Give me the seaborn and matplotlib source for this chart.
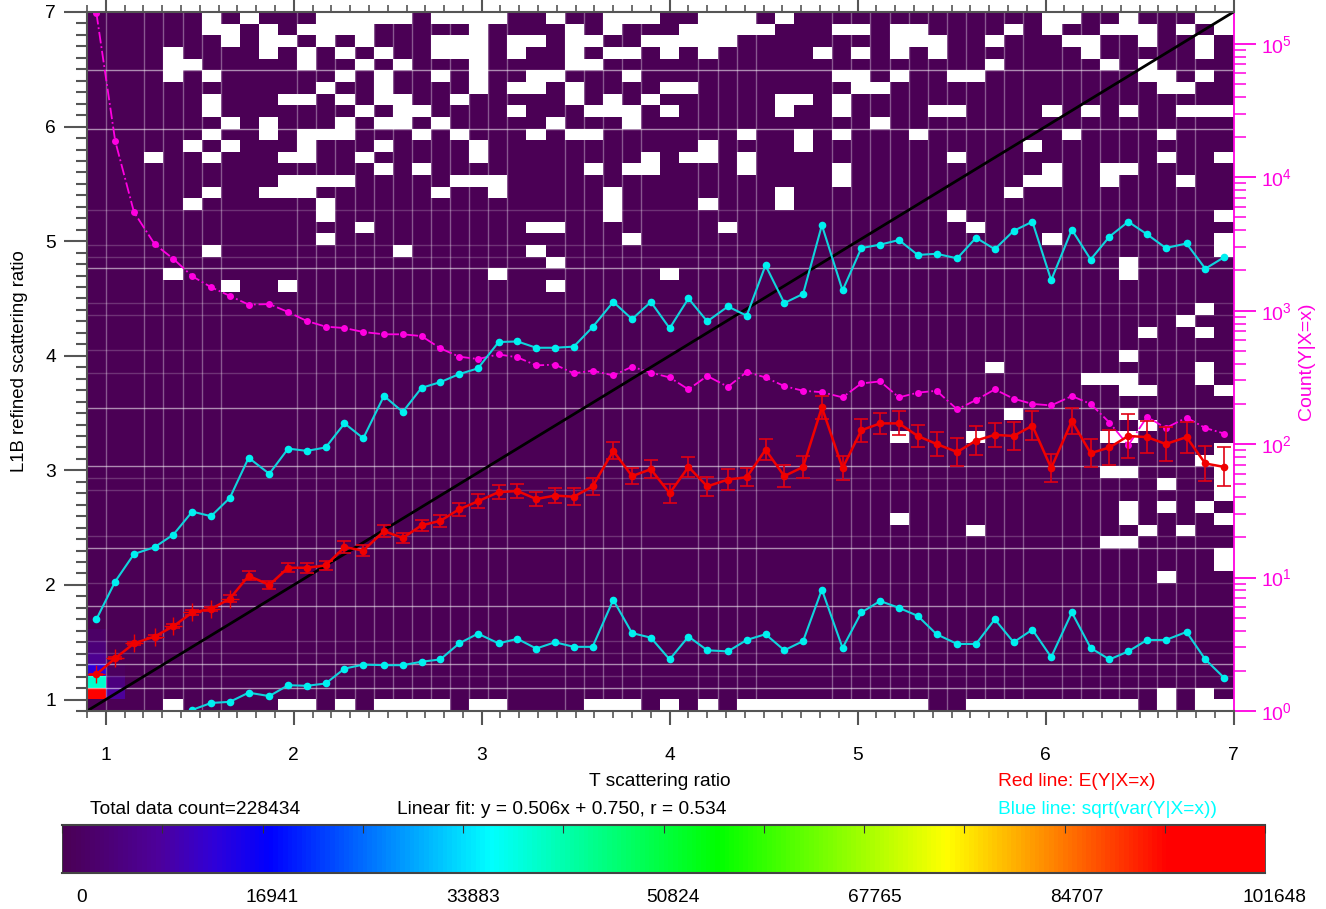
import numpy as np
import matplotlib.pyplot as plt
import seaborn as sns
from matplotlib.colors import LinearSegmentedColormap
from matplotlib.ticker import MultipleLocator, LogLocator, NullFormatter

W, H = 1326, 909

# bin centres of the 60 columns
x_bins = [0.95, 1.05, 1.15, 1.26, 1.36, 1.46, 1.56, 1.66, 1.76, 1.87,
          1.97, 2.07, 2.17, 2.27, 2.37, 2.48, 2.58, 2.68, 2.78, 2.88,
          2.98, 3.09, 3.19, 3.29, 3.39, 3.49, 3.59, 3.70, 3.80, 3.90,
          4.00, 4.10, 4.20, 4.31, 4.41, 4.51, 4.61, 4.71, 4.81, 4.92,
          5.02, 5.12, 5.22, 5.32, 5.42, 5.53, 5.63, 5.73, 5.83, 5.93,
          6.03, 6.14, 6.24, 6.34, 6.44, 6.54, 6.64, 6.75, 6.85, 6.95]

mean_y = [1.22, 1.36, 1.49, 1.55, 1.64, 1.76, 1.79, 1.88, 2.08, 2.00,
          2.15, 2.15, 2.17, 2.33, 2.30, 2.47, 2.41, 2.52, 2.56, 2.66,
          2.73, 2.81, 2.82, 2.75, 2.78, 2.77, 2.86, 3.17, 2.95, 3.01,
          2.80, 3.03, 2.86, 2.92, 2.94, 3.18, 2.95, 3.03, 3.55, 3.02,
          3.35, 3.41, 3.41, 3.30, 3.23, 3.16, 3.26, 3.31, 3.30, 3.39,
          3.02, 3.43, 3.15, 3.20, 3.30, 3.29, 3.23, 3.29, 3.06, 3.03]

err_y = [0.005, 0.008, 0.01, 0.012, 0.015, 0.02, 0.02, 0.03, 0.04, 0.035,
         0.04, 0.045, 0.04, 0.05, 0.045, 0.05, 0.045, 0.05, 0.05, 0.055,
         0.06, 0.06, 0.06, 0.065, 0.065, 0.075, 0.075, 0.075, 0.07, 0.08,
         0.083, 0.09, 0.08, 0.09, 0.08, 0.09, 0.095, 0.095, 0.10, 0.105,
         0.10, 0.09, 0.105, 0.10, 0.105, 0.125, 0.125, 0.105, 0.125, 0.125,
         0.12, 0.11, 0.12, 0.155, 0.19, 0.14, 0.145, 0.135, 0.15, 0.17]

upper_y = [1.70, 2.03, 2.27, 2.33, 2.44, 2.64, 2.60, 2.76, 3.11, 2.97,
           3.19, 3.17, 3.20, 3.41, 3.28, 3.65, 3.51, 3.72, 3.77, 3.84,
           3.89, 4.12, 4.125, 4.07, 4.07, 4.08, 4.25, 4.47, 4.32, 4.47,
           4.24, 4.50, 4.30, 4.43, 4.35, 4.79, 4.46, 4.54, 5.14, 4.57,
           4.94, 4.97, 5.01, 4.88, 4.89, 4.85, 5.03, 4.93, 5.09, 5.17,
           4.66, 5.10, 4.84, 5.04, 5.17, 5.06, 4.94, 4.98, 4.76, 4.86]

lower_y = [0.74, 0.69, 0.71, 0.77, 0.84, 0.91, 0.97, 0.98, 1.06, 1.03,
           1.125, 1.12, 1.14, 1.27, 1.305, 1.30, 1.30, 1.33, 1.35, 1.49,
           1.575, 1.49, 1.53, 1.445, 1.50, 1.46, 1.46, 1.87, 1.58, 1.54,
           1.35, 1.55, 1.43, 1.42, 1.52, 1.57, 1.43, 1.51, 1.96, 1.45,
           1.76, 1.86, 1.80, 1.73, 1.57, 1.485, 1.485, 1.70, 1.50, 1.61,
           1.37, 1.76, 1.45, 1.35, 1.42, 1.52, 1.52, 1.59, 1.35, 1.19]

count_y = [170000, 18700, 5470, 3150, 2440, 1810, 1500, 1290, 1110, 1120,
           977, 836, 759, 741, 692, 665, 665, 645, 522, 452,
           434, 470, 447, 389, 394, 339, 355, 327, 380, 343,
           316, 257, 324, 269, 347, 316, 272, 251, 245, 224,
           285, 295, 224, 243, 251, 182, 214, 257, 219, 200,
           195, 229, 200, 145, 98, 160, 132, 158, 132, 120]

# empty bins, row number from the top -> column numbers
empty_cells = {
    0: [6, 8, 12, 13, 14, 15, 16, 18, 19, 20, 21, 24, 27, 28, 29, 32, 33, 34, 36, 50, 51, 54, 58, 59],
    1: [6, 7, 9, 11, 12, 13, 14, 20, 25, 27, 31, 32, 33, 34, 35, 39, 40, 42, 43, 48, 50, 53, 54, 55, 57, 59],
    2: [7, 9, 10, 12, 14, 18, 19, 20, 22, 23, 25, 26, 29, 30, 31, 32, 33, 42, 43, 44, 47, 51, 52, 55, 58],
    3: [4, 9, 11, 13, 15, 18, 19, 20, 22, 25, 27, 28, 30, 32, 38, 40, 42, 44, 52, 58],
    4: [4, 5, 11, 14, 16, 20, 25, 26, 47, 53, 55],
    5: [4, 6, 13, 15, 18, 20, 23, 24, 28, 39, 40, 42, 45, 46, 55, 56, 58],
    6: [12, 15, 20, 22, 23, 25, 30, 31, 40, 41, 56, 57],
    7: [6, 10, 11, 13, 15, 16, 19, 25, 27, 29, 36, 37, 39],
    8: [6, 14, 16, 17, 22, 26, 27, 28, 30, 36, 39, 44, 45, 50, 52, 54, 57, 58, 59],
    9: [7, 9, 13, 15, 16, 18, 24, 28, 41],
    10: [6, 9, 11, 12, 13, 17, 19, 23, 25, 26, 34, 37, 39, 43, 51, 56],
    11: [5, 7, 11, 15, 20, 32, 37, 49],
    12: [3, 6, 10, 11, 14, 20, 29, 31, 32, 34, 45, 56, 59],
    13: [15, 17, 26, 28, 29, 34, 39, 50, 53, 54],
    14: [10, 11, 12, 13, 19, 20, 21, 39, 49, 50, 53, 57],
    15: [6, 9, 10, 11, 18, 21, 27, 36, 48],
    16: [5, 12, 27, 32, 36],
    17: [12, 27, 45, 59],
    18: [14, 23, 24, 33, 46],
    19: [12, 28, 50, 59],
    20: [6, 16, 23, 59],
    21: [24, 54],
    22: [4, 21, 30, 54],
    23: [7, 10, 24],
    25: [58],
    26: [57],
    27: [55, 58],
    29: [54],
    30: [47, 58],
    31: [52, 53, 54, 58],
    32: [54, 55, 59],
    34: [48, 54],
    35: [55],
    36: [42, 46, 53, 54],
    37: [59],
    38: [58, 59],
    39: [53, 54, 59],
    40: [56, 59],
    41: [59],
    42: [54, 56, 58],
    43: [42, 54, 59],
    44: [46, 55, 57],
    45: [53, 54],
    46: [59],
    47: [59],
    48: [56],
    58: [56, 58],
    59: [4, 10, 11, 13, 15, 16, 17, 18, 20, 21, 26, 27, 28, 30, 32, 34, 35, 36, 37, 38, 39, 40, 41, 42, 43,
         46, 47, 48, 49, 50, 51, 52, 53, 54, 56, 58, 59],
}

# bins with a count that shows up on the colour scale: (row, column, count)
hot_cells = [(58, 0, 101648), (57, 0, 40000), (56, 0, 13000), (55, 0, 7000), (54, 0, 4000), (53, 0, 2000),
             (58, 1, 8000), (57, 1, 5000), (56, 1, 1500)]
count_low = 40
count_max = 101648

grid_rows_bright = [5, 10, 22, 34, 39, 46, 51, 56, 58]
grid_rows_faint = [17, 20, 21, 25, 26, 29, 31, 40, 41, 45, 49, 54, 55, 57]
grid_cols = [1, 3, 4, 5, 6, 7, 11, 12, 13, 14, 15, 16, 17, 18, 19, 20, 21, 22, 25, 26, 27, 28, 29,
             32, 33, 34, 35, 39, 40, 41, 42, 43, 44, 45, 46, 47, 48, 49, 51, 52, 53, 54, 55, 56, 57, 58]

bar_labels = ['0', '16941', '33883', '50824', '67765', '84707', '101648']
bar_label_px = [82, 272, 473, 673, 875, 1077, 1274]

sns.set_theme(style='ticks')
plt.rcParams['font.family'] = ['Liberation Sans', 'DejaVu Sans']
plt.rcParams['mathtext.default'] = 'regular'

cmap = LinearSegmentedColormap.from_list('idl', [(0, '#4b0055'), (0.08, '#4d009c'), (0.125, '#3000d8'),
                                                 (0.172, '#0000ff'), (0.356, '#00ffff'), (0.546, '#00ff00'),
                                                 (0.736, '#ffff00'), (0.92, '#ff0000'), (1, '#ff0000')], N=256)


def px_axes(left, top, right, bottom):
    return [left / W, 1 - bottom / H, (right - left) / W, (bottom - top) / H]


def px_text(x, y, s, **kw):
    fig.text(x / W, 1 - y / H, s, va='center', **kw)


counts = np.full((60, 60), float(count_low))
for r, c, v in hot_cells:
    counts[r, c] = v
mask = np.zeros((60, 60), dtype=bool)
for r, cols in empty_cells.items():
    mask[r, cols] = True

fig = plt.figure(figsize=(W / 100, H / 100), dpi=100)
rect = px_axes(87, 12, 1233.5, 711)

# the 2D histogram
ax_hm = fig.add_axes(rect, zorder=0)
cax = fig.add_axes(px_axes(62, 825, 1265, 873))
sns.heatmap(counts, mask=mask, cmap=cmap, vmin=0, vmax=count_max, ax=ax_hm, cbar_ax=cax,
            cbar_kws={'orientation': 'horizontal'}, xticklabels=False, yticklabels=False)
ax_hm.tick_params(left=False, bottom=False)
ax_hm.hlines(grid_rows_bright, 0, 60, color='white', alpha=0.55, lw=1)
ax_hm.hlines(grid_rows_faint, 0, 60, color='white', alpha=0.2, lw=1)
ax_hm.vlines(grid_cols, 0, 60, color='white', alpha=0.35, lw=1)

# counts on the log axis, behind the rest
ax = fig.add_axes(rect, zorder=2)
ax.patch.set_visible(False)
ax2 = ax.twinx()
ax2.set_zorder(1)
ax2.patch.set_visible(False)
sns.lineplot(x=x_bins, y=count_y, ax=ax2, color='#ff00e0', linestyle='-.', linewidth=1.3,
             marker='o', markersize=5, markeredgewidth=0, errorbar=None)
ax2.set_yscale('log')
ax2.set_ylim(1, 173000)
ax2.yaxis.set_major_locator(LogLocator(base=10, numticks=8))
ax2.yaxis.set_minor_locator(LogLocator(base=10, subs=np.arange(2, 10), numticks=8))
ax2.yaxis.set_minor_formatter(NullFormatter())
ax2.tick_params(axis='y', which='major', length=16, width=1.3, color='#ff00e0', labelcolor='#ff00e0',
                labelsize=14, pad=4)
ax2.tick_params(axis='y', which='minor', length=8.5, width=1.1, color='#ff00e0')
for side in ['left', 'top', 'bottom']:
    ax2.spines[side].set_visible(False)
ax2.spines['right'].set_color('#ff00e0')
ax2.spines['right'].set_linewidth(1.3)

# one to one line, spread and mean
ax.set_xlim(0.9, 7)
ax.set_ylim(0.9, 7)
sns.lineplot(x=ax.get_xlim(), y=ax.get_ylim(), ax=ax, color='black', linewidth=2, errorbar=None)
sns.lineplot(x=x_bins, y=upper_y, ax=ax, color='#10d4dc', linewidth=1.5, marker='o', markersize=5.5,
             markeredgewidth=0, markerfacecolor='#00f0f0', errorbar=None)
sns.lineplot(x=x_bins, y=lower_y, ax=ax, color='#10d4dc', linewidth=1.5, marker='o', markersize=5.5,
             markeredgewidth=0, markerfacecolor='#00f0f0', errorbar=None)
ax.errorbar(x_bins, mean_y, yerr=err_y, fmt='none', ecolor='#e00014', elinewidth=1.2, capsize=5.2, capthick=1.2)
sns.lineplot(x=x_bins, y=mean_y, ax=ax, color='#f00000', linewidth=1.8, marker='o', markersize=5.5,
             markeredgewidth=0, errorbar=None)
ax.plot(x_bins[:8], mean_y[:8], linestyle='none', marker='+', color='#f00000', markersize=13, markeredgewidth=1)

ax.set_xticks([1, 2, 3, 4, 5, 6, 7])
ax.set_yticks([1, 2, 3, 4, 5, 6, 7])
ax.xaxis.set_minor_locator(MultipleLocator(0.1))
ax.yaxis.set_minor_locator(MultipleLocator(0.1))
ax.tick_params(axis='x', which='both', top=True, color='#555555', direction='out')
ax.tick_params(axis='x', which='major', length=10, width=1.5, labelsize=13.8, labelcolor='black', pad=16)
ax.tick_params(axis='x', which='minor', length=5, width=1.2)
ax.tick_params(axis='y', which='both', right=False, color='#555555', direction='out')
ax.tick_params(axis='y', which='major', length=16.5, width=1.5, labelsize=13.8, labelcolor='black', pad=6)
ax.tick_params(axis='y', which='minor', length=8, width=1.5)
for side in ['left', 'top', 'bottom']:
    ax.spines[side].set_color('#555555')
    ax.spines[side].set_linewidth(1.5)
ax.spines['right'].set_visible(False)

# colour bar
cax.set_xticks(np.linspace(0, count_max, 13))
cax.set_xticklabels([])
cax.xaxis.set_ticks_position('top')
cax.set_axisbelow(False)
cax.tick_params(axis='x', direction='in', length=6, width=0.8, color='#333333')
for side in cax.spines:
    cax.spines[side].set_visible(True)
    cax.spines[side].set_color('#444444')
    cax.spines[side].set_linewidth(1.5 if side in ('top', 'bottom') else 0.5)

# text under the plot
px_text(660, 781, 'T scattering ratio', ha='center', fontsize=13.8, color='black')
px_text(90, 809, 'Total data count=228434', ha='left', fontsize=13.8, color='black')
px_text(397, 809, 'Linear fit: y = 0.506x + 0.750, r = 0.534', ha='left', fontsize=13.8, color='black')
px_text(998, 781, 'Red line: E(Y|X=x)', ha='left', fontsize=13.8, color='red')
px_text(998, 809, 'Blue line: sqrt(var(Y|X=x))', ha='left', fontsize=13.8, color='cyan')
px_text(20, 361, 'L1B refined scattering ratio', ha='center', rotation=90, fontsize=13.4, color='black')
px_text(1307, 361, 'Count(Y|X=x)', ha='center', rotation=90, fontsize=14, color='#ff00e0')
for label, px in zip(bar_labels, bar_label_px):
    px_text(px, 898, label, ha='center', fontsize=13.8, color='black')

fig.savefig('out.png', dpi=100)
